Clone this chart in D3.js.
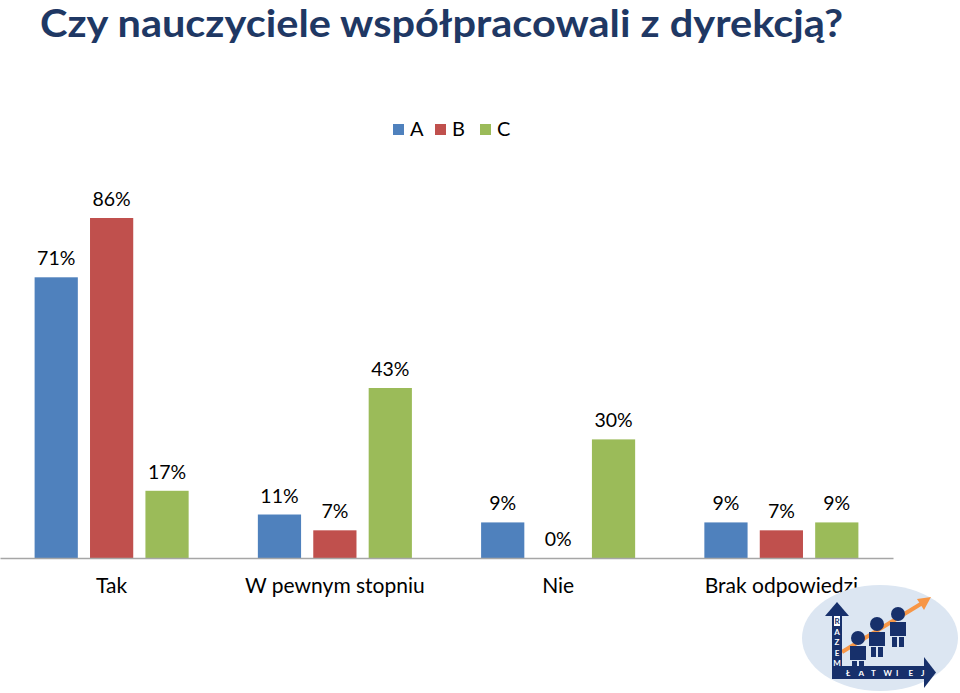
<!DOCTYPE html>
<html>
<head>
<meta charset="utf-8">
<script src="https://cdn.jsdelivr.net/npm/d3@7"></script>
<style>
  body { margin: 0; background: #fff; }
  svg { display: block; }
</style>
</head>
<body>
<div id="chart"></div>
<script>
// chart data
var categories = ["Tak", "W pewnym stopniu", "Nie", "Brak odpowiedzi"];
var seriesNames = ["A", "B", "C"];
var valuesA = [71, 11, 9, 9];
var valuesB = [86, 7, 0, 7];
var valuesC = [17, 43, 30, 9];
var colors = ["#4F81BD", "#C0504D", "#9BBB59"];
var title = "Czy nauczyciele współpracowali z dyrekcją?";

var width = 960, height = 693;
var font = "Lato, 'Open Sans', sans-serif";

var svg = d3.select("#chart").append("svg")
    .attr("width", width)
    .attr("height", height);

// title
svg.append("text")
    .attr("x", 40)
    .attr("y", 37)
    .attr("font-family", "Lato, 'Open Sans', sans-serif")
    .attr("font-weight", "bold")
    .attr("font-size", 38)
    .attr("fill", "#1F3864")
    .attr("textLength", 803)
    .attr("lengthAdjust", "spacingAndGlyphs")
    .text(title);

// build rows from arrays
var rows = categories.map(function(c, i){
    return {cat: c, vals: [valuesA[i], valuesB[i], valuesC[i]]};
});

//scales
var x0 = d3.scaleBand()
    .domain(categories)
    .range([0, 893])
    .paddingInner(0.31)
    .paddingOuter(0.155);

var x1 = d3.scaleBand()
    .domain(seriesNames)
    .range([0, x0.bandwidth()])
    .paddingInner(0.22);

var y = d3.scaleLinear()
    .domain([0, 86])
    .range([558, 218]);

// bars
var groups = svg.selectAll("g.grp")
    .data(rows)
    .enter().append("g")
    .attr("class", "grp")
    .attr("transform", function(d){ return "translate(" + x0(d.cat) + ",0)"; });

groups.selectAll("rect")
    .data(function(d){ return d.vals.map(function(v, j){ return {s: seriesNames[j], v: v, j: j}; }); })
    .enter().append("rect")
    .attr("x", function(d){ return x1(d.s); })
    .attr("y", function(d){ return y(d.v); })
    .attr("width", x1.bandwidth())
    .attr("height", function(d){ return y(0) - y(d.v); })
    .attr("fill", function(d){ return colors[d.j]; });

// value labels
groups.selectAll("text.val")
    .data(function(d){ return d.vals.map(function(v, j){ return {s: seriesNames[j], v: v}; }); })
    .enter().append("text")
    .attr("class", "val")
    .attr("x", function(d){ return x1(d.s) + x1.bandwidth() / 2; })
    .attr("y", function(d){ return y(d.v) - 12; })
    .attr("text-anchor", "middle")
    .attr("font-family", font)
    .attr("font-size", 19.5)
    .attr("fill", "#000")
    .text(function(d){ return d.v + "%"; });

// x axis
var xAxis = d3.axisBottom(x0).tickSize(0).tickPadding(20);
var ax = svg.append("g")
    .attr("transform", "translate(0," + y(0) + ")")
    .call(xAxis);
ax.select(".domain").attr("stroke", "#A6A6A6").attr("stroke-width", 1.3);
ax.selectAll("text")
    .attr("font-family", font)
    .attr("font-size", 21)
    .attr("fill", "#000");

// legend
var legendX = [393, 435, 480];
var legend = svg.selectAll("g.leg")
    .data(seriesNames)
    .enter().append("g")
    .attr("class", "leg")
    .attr("transform", function(d, i){ return "translate(" + legendX[i] + ",124)"; });
legend.append("rect")
    .attr("width", 11).attr("height", 11)
    .attr("fill", function(d, i){ return colors[i]; });
legend.append("text")
    .attr("x", 17).attr("y", 12)
    .attr("font-family", font)
    .attr("font-size", 20)
    .attr("fill", "#000")
    .text(function(d){ return d; });

// logo (approximation)
var logo = svg.append("g").attr("transform", "translate(880,638)");
logo.append("ellipse").attr("rx", 78).attr("ry", 53).attr("fill", "#DCE6F2");
var navy = "#17306B";
// orange arrow
logo.append("line").attr("x1", -38).attr("y1", 14).attr("x2", 44).attr("y2", -36)
    .attr("stroke", "#F79646").attr("stroke-width", 4);
logo.append("path").attr("d", "M51,-41 L37,-39 L44,-28 Z").attr("fill", "#F79646");
// axes arrows
logo.append("rect").attr("x", -48).attr("y", -23).attr("width", 10).attr("height", 60).attr("fill", navy);
logo.append("path").attr("d", "M-55,-22 L-43,-36 L-31,-22 Z").attr("fill", navy);
logo.append("rect").attr("x", -48).attr("y", 28).attr("width", 94).attr("height", 13).attr("fill", navy);
logo.append("path").attr("d", "M44,19 L56,34.5 L44,50 Z").attr("fill", navy);
logo.append("rect").attr("x", -46).attr("y", -22).attr("width", 6).attr("height", 10).attr("fill", "#fff");
logo.selectAll("text.v").data(["R","A","Z","E","M"]).enter().append("text")
    .attr("x", -43).attr("y", function(d, i){ return -14 + i * 10.5; })
    .attr("text-anchor", "middle").attr("font-family", font).attr("font-size", 8)
    .attr("font-weight", "bold").attr("fill", function(d, i){ return i === 0 ? navy : "#fff"; })
    .text(function(d){ return d; });
logo.selectAll("text.h").data(["Ł","A","T","W","I","E","J"]).enter().append("text")
    .attr("x", function(d, i){ return -34 + i * 12.5; }).attr("y", 38)
    .attr("font-family", font).attr("font-size", 8)
    .attr("font-weight", "bold").attr("fill", "#fff")
    .text(function(d){ return d; });
// figures
[[-22, 8], [-3, -6], [18, -16]].forEach(function(p){
    logo.append("circle").attr("cx", p[0]).attr("cy", p[1] - 8).attr("r", 7).attr("fill", navy);
    logo.append("rect").attr("x", p[0] - 8).attr("y", p[1]).attr("width", 16).attr("height", 14).attr("fill", navy);
    logo.append("rect").attr("x", p[0] - 6).attr("y", p[1] + 15).attr("width", 5).attr("height", 10).attr("fill", navy);
    logo.append("rect").attr("x", p[0] + 1).attr("y", p[1] + 15).attr("width", 5).attr("height", 10).attr("fill", navy);
});
</script>
</body>
</html>
